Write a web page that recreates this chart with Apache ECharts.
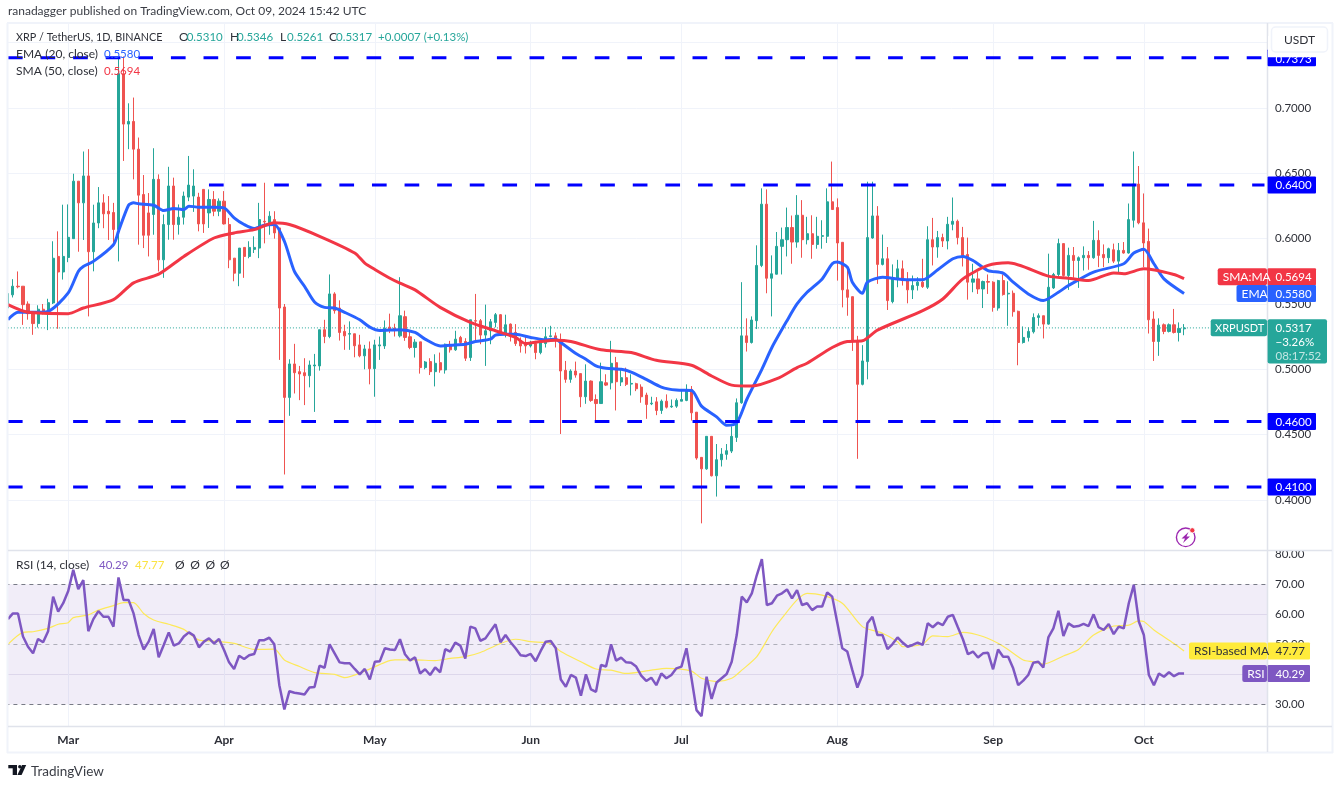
<!DOCTYPE html>
<html>
<head>
<meta charset="utf-8">
<title>XRP / TetherUS</title>
<style>
    html, body { margin: 0; padding: 0; background: #fff; }
    #main { width: 1339px; height: 785px; }
</style>
<script src="https://cdn.jsdelivr.net/npm/echarts@6/dist/echarts.min.js"></script>
</head>
<body>
<div id="main"></div>
<script>
/** chart data start */
var firstDay = '2024-02-18';
var barCount = 251; // visible slots, the last ones are empty
var monthNames = ['Jan', 'Feb', 'Mar', 'Apr', 'May', 'Jun', 'Jul', 'Aug', 'Sep', 'Oct', 'Nov', 'Dec'];

var priceGridValues = [0.40, 0.45, 0.50, 0.55, 0.60, 0.65, 0.70, 0.75];
var priceLabelValues = [0.40, 0.45, 0.50, 0.55, 0.60, 0.65, 0.70];
var rsiGridValues = [40, 60];
var rsiLabelValues = [30, 50, 60, 70, 80];

// open, close, low, high, one row per day
var candles = [
    [.547,.558,.545,.5636],[.557,.5636,.555,.569],[.5636,.5632,.562,.5749],[.5636,.5495,.534,.5636],
    [.55,.5426,.538,.552],[.543,.535,.5264,.5436],[.535,.546,.532,.549],[.546,.543,.542,.55],
    [.543,.551,.530,.554],[.5508,.585,.550,.598],[.5864,.5745,.531,.6056],[.5745,.5864,.5687,.626],
    [.5856,.601,.582,.6262],[.60,.644,.60,.6497],[.644,.6274,.590,.644],[.6274,.648,.599,.6667],
    [.648,.59,.5405,.6685],[.59,.612,.575,.626],[.612,.6274,.608,.6395],[.6274,.619,.608,.634],
    [.621,.619,.599,.6326],[.62,.607,.594,.6274],[.607,.7263,.5826,.7395],[.7263,.6877,.6595,.7395],
    [.6877,.6897,.6685,.7036],[.6897,.6685,.6454,.708],[.6685,.6333,.5954,.6774],[.6338,.6026,.5928,.6487],
    [.6197,.6026,.5864,.6349],[.6185,.6454,.603,.6692],[.6454,.5838,.5749,.6492],[.5838,.6108,.57,.6185],
    [.6108,.6403,.5992,.655],[.6403,.6108,.5992,.6467],[.6108,.6164,.6031,.6262],[.6164,.6326,.6108,.636],
    [.6318,.641,.6287,.6633],[.6326,.6403,.6205,.6531],[.6318,.6113,.6056,.6351],[.6377,.6113,.6044,.6377],
    [.6197,.63,.6082,.6377],[.63,.621,.6172,.6364],[.621,.6287,.6172,.6308],[.6287,.6113,.6108,.6364],
    [.6108,.5838,.5774,.6159],[.5851,.5736,.5674,.5851],[.5736,.5928,.5636,.5928],[.5933,.5864,.57,.5933],
    [.5864,.5933,.585,.598],[.5918,.5933,.589,.6018],[.5928,.6146,.5851,.6274],[.6133,.6128,.5964,.6428],
    [.6121,.6172,.603,.621],[.6146,.6044,.6,.621],[.6082,.5469,.5072,.6082],[.5477,.4785,.4195,.55],
    [.4785,.5041,.4644,.5077],[.5041,.4974,.4815,.5195],[.4982,.4964,.4764,.5026],[.4974,.4951,.4726,.5085],
    [.4951,.5033,.4862,.5067],[.5026,.5033,.4674,.5118],[.5026,.5303,.499,.5303],[.5303,.5251,.52,.5379],
    [.5251,.5577,.5238,.5726],[.5577,.5449,.5426,.559],[.5469,.5282,.522,.5528],[.529,.5256,.5149,.5341],
    [.5269,.5274,.5149,.5367],[.5272,.518,.5092,.5272],[.5187,.5103,.5092,.5264],[.5103,.5156,.5,.5187],
    [.5156,.5005,.4885,.5213],[.5005,.5187,.479,.5226],[.5179,.5187,.5072,.5251],[.5179,.5315,.5156,.5374],
    [.5323,.5297,.5277,.5426],[.5315,.5303,.5251,.5349],[.5256,.541,.5244,.5705],[.5403,.5244,.5218,.5449],
    [.5249,.5167,.5154,.53],[.5167,.5208,.509,.5231],[.521,.5013,.4967,.521],[.5013,.5056,.5,.5064],
    [.5059,.4982,.4956,.5085],[.4982,.5046,.4869,.5115],[.5051,.4995,.4974,.5128],[.4995,.5192,.4967,.5197],
    [.5185,.5149,.5128,.5218],[.5149,.5231,.5141,.5295],[.5244,.5205,.5192,.5256],[.5213,.5085,.5064,.5238],
    [.509,.5379,.5064,.5379],[.5372,.5369,.5218,.5577],[.5372,.5262,.5192,.5385],[.5262,.5295,.5026,.5495],
    [.5295,.5364,.5192,.5385],[.5359,.5418,.5321,.5431],[.5418,.5269,.5256,.5423],[.5269,.5341,.5244,.5418],
    [.5346,.5274,.5213,.5351],[.5282,.5197,.5179,.5346],[.5218,.5179,.5128,.5244],[.5197,.5179,.5121,.5256],
    [.5179,.5205,.5167,.5218],[.5197,.5128,.5077,.5218],[.5128,.5213,.5115,.5231],[.5197,.5249,.5167,.5321],
    [.5251,.5256,.5244,.5333],[.5256,.5238,.5167,.5282],[.5218,.4987,.4505,.5274],[.4992,.4923,.4897,.5064],
    [.4923,.4987,.4897,.5],[.4987,.4956,.4936,.5059],[.4967,.479,.471,.4967],[.479,.491,.4736,.5038],
    [.491,.4762,.4751,.4915],[.4769,.4738,.4597,.4808],[.4738,.4905,.4738,.5051],[.4897,.4879,.4872,.4962],
    [.4897,.5046,.4846,.5218],[.5051,.4905,.4685,.5095],[.4903,.4936,.4872,.5],[.4936,.4885,.4872,.5013],
    [.4887,.4892,.48,.4962],[.489,.4851,.4833,.4897],[.4864,.479,.4744,.4885],[.4803,.4731,.4621,.4821],
    [.4736,.4741,.4726,.479],[.4751,.4685,.4649,.4787],[.4685,.4756,.4659,.4769],[.4756,.471,.47,.4808],
    [.4713,.4718,.4705,.4769],[.4718,.4762,.4705,.4777],[.4756,.4769,.4756,.4838],[.4762,.4846,.4756,.4885],
    [.4846,.4667,.4608,.4872],[.4672,.4321,.4308,.4672],[.4326,.4238,.3821,.4326],[.4238,.4487,.4231,.4487],
    [.4487,.4185,.418,.4487],[.4185,.4308,.4026,.4428],[.4308,.4351,.4256,.4397],[.4349,.4377,.4308,.4428],
    [.4374,.4487,.4359,.4564],[.4479,.4744,.4444,.4777],[.4744,.5256,.4736,.5667],[.5256,.5205,.5136,.539],
    [.5205,.5377,.5197,.5405],[.5372,.5795,.5308,.5949],[.5795,.6264,.5782,.6385],[.6264,.5697,.5582,.6377],
    [.5697,.5731,.5405,.5872],[.5728,.5941,.5726,.6051],[.5941,.5992,.5726,.6085],[.5992,.6085,.5864,.6238],
    [.6085,.5974,.5808,.6177],[.5974,.6179,.5931,.6333],[.6179,.5992,.5854,.6295],[.5992,.6038,.5956,.6167],
    [.6038,.5956,.5846,.6179],[.5956,.6018,.5923,.6167],[.6018,.6023,.5923,.6141],[.6018,.6282,.5967,.6385],
    [.6282,.6223,.6223,.659],[.6238,.5967,.5679,.6308],[.5972,.5608,.5474,.5972],[.5608,.5551,.541,.5782],
    [.5556,.5218,.5141,.5556],[.5218,.4885,.4315,.5256],[.4885,.5064,.4877,.5185],[.5059,.6008,.4923,.6436],
    [.6005,.6174,.6,.6436],[.6174,.5803,.5654,.6249],[.5803,.5846,.5795,.6031],[.5846,.5526,.5454,.5936],
    [.5518,.5692,.5505,.5803],[.5692,.5769,.5628,.5838],[.5769,.5679,.5641,.5833],[.5679,.5608,.5505,.5744],
    [.5608,.5641,.5538,.5718],[.5641,.5667,.5603,.5705],[.5667,.5633,.5623,.5846],[.5628,.5992,.5615,.6095],
    [.5992,.5936,.5795,.6159],[.5936,.6008,.5854,.6059],[.6008,.5982,.5936,.6038],[.5982,.611,.5918,.6167],
    [.611,.6133,.6064,.6315],[.6133,.6008,.5956,.6146],[.6008,.5872,.5787,.609],[.5879,.5667,.5533,.6008],
    [.5667,.5692,.559,.5808],[.5692,.5615,.5577,.5744],[.5615,.5672,.5469,.5679],[.5672,.5667,.5577,.5726],
    [.5667,.5474,.5441,.5674],[.5469,.5679,.5449,.5685],[.5679,.5572,.5564,.5726],[.5577,.5582,.5333,.5674],
    [.5582,.5441,.5403,.5603],[.5444,.5205,.5031,.5449],[.5205,.5244,.5197,.5328],[.5244,.529,.5213,.5321],
    [.5287,.5397,.5274,.5428],[.5397,.541,.5333,.5428],[.541,.5346,.5236,.541],[.5346,.5628,.5341,.5885],
    [.5623,.5726,.5615,.5738],[.5726,.5962,.571,.6],[.5962,.5718,.571,.5962],[.5718,.5872,.5608,.5931],
    [.5872,.5833,.57,.5936],[.5833,.5854,.5623,.5864],[.5854,.5872,.5756,.5941],[.5872,.5854,.5762,.5905],
    [.5854,.5987,.5846,.6136],[.5987,.5872,.5782,.6064],[.5879,.5854,.5782,.5956],[.5854,.5923,.5813,.5931],
    [.5915,.5828,.5813,.5962],[.5828,.591,.5744,.5967],[.591,.589,.5885,.5974],[.589,.6146,.5885,.6269],
    [.6141,.6418,.6085,.6667],[.6418,.6121,.611,.6556],[.6121,.5967,.5782,.6346],[.5979,.5379,.5274,.6077],
    [.5385,.5213,.5064,.5444],[.5213,.5338,.5103,.539],[.5341,.529,.5269,.5351],[.529,.5341,.5282,.5351],
    [.5341,.5282,.5274,.5462],[.5282,.5313,.5213,.5359],[.5310,.5317,.5261,.5346]
];

// moving averages, [day index, value] at the spots
var emaPoints = [
    [0,.538],[2,.5436],[5,.5436],[8,.5444],[12,.5585],[14,.5749],[15,.5787],[17,.5826],[21,.5954],[22,.6056],
    [24,.6256],[25,.6274],[26,.6267],[29,.6256],[31,.6215],[33,.6231],[35,.6223],[36,.6249],[38,.6241],[41,.6241],
    [43,.6236],[45,.6159],[47,.6108],[49,.6077],[51,.6103],[53,.6108],[55,.598],[57,.5749],[59,.5636],[61,.5515],
    [63,.5474],[65,.5469],[67,.5436],[70,.5379],[72,.5323],[74,.5297],[78,.5303],[81,.5282],[83,.5231],[86,.5179],
    [88,.5185],[91,.5192],[93,.5213],[96,.5231],[97,.5262],[99,.5269],[101,.5269],[104,.5244],[107,.5226],[109,.5231],
    [110,.5205],[113,.5121],[115,.5077],[117,.5026],[119,.5008],[122,.5],[124,.4979],[127,.4923],[130,.4864],[133,.4841],
    [136,.4838],[138,.4718],[141,.4636],[143,.4572],[145,.459],[147,.4769],[150,.5],[152,.5167],[155,.5372],[157,.55],
    [159,.559],[162,.5692],[164,.5808],[165,.5821],[167,.5782],[168,.5667],[170,.5582],[171,.5667],[174,.5705],[177,.5692],
    [180,.5685],[182,.5685],[185,.5762],[188,.5846],[190,.5864],[192,.5833],[195,.5756],[198,.5736],[200,.5667],[203,.5577],
    [206,.5526],[209,.559],[211,.5641],[216,.5744],[222,.5808],[224,.589],[226,.5918],[228,.5808],[230,.5692],[234,.558]
];
var smaPoints = [
    [0,.5495],[4,.5436],[12,.5426],[15,.5469],[21,.5533],[25,.5662],[30,.5728],[35,.5864],[41,.6005],[45,.6044],
    [49,.6069],[53,.6121],[56,.6108],[62,.6018],[69,.589],[71,.5813],[73,.5764],[76,.5697],[78,.5659],[81,.5608],
    [86,.5474],[92,.5359],[97,.5295],[101,.5244],[103,.5197],[106,.5213],[109,.5223],[112,.5213],[118,.5149],[124,.5128],
    [129,.5069],[136,.5031],[140,.4949],[144,.4879],[148,.4872],[153,.4928],[157,.5013],[159,.5046],[164,.5167],[167,.5213],
    [170,.5218],[173,.53],[182,.5449],[186,.5538],[190,.5692],[195,.5795],[199,.5815],[207,.5713],[211,.5697],[215,.5679],
    [220,.5738],[222,.5731],[226,.5769],[232,.5726],[234,.5694]
];

var rsiValues = [
    58.4,60.3,60.3,52.6,49.2,47,51.8,50.7,54.4,65.9,60.9,63.7,67.8,74.8,68.4,71.4,54.4,58.4,61.1,59.2,
    59.2,55.9,72.3,64.8,64.8,60.3,53.1,48.3,50.9,55.1,45.7,49.8,54,49.6,50.3,52.6,54,52.9,49,50.9,
    52,50.3,51.8,48.1,44,41.8,46.2,45.1,46.4,46.8,51.4,51.4,52.2,50,36.4,28.3,34.4,33.9,33.6,33.3,
    35.6,35.8,42.9,42.2,50,47,44,43.7,43.7,41.8,40,41.8,38.3,44.2,44.4,48.7,48.3,48.1,51.7,46.7,
    44.6,45.7,40.3,41.7,39.8,42.3,40.7,48.4,47.6,50.6,49.6,45.3,55.9,55.3,51.2,52,54.4,56.7,50.7,53.1,
    50.7,48.7,46.4,46.1,46.8,44.4,47.8,50.9,51.1,48.7,38.3,35.9,39.8,38.9,32.9,40,35,34.2,43.1,42.6,
    50,44.6,45.6,44,43.9,42.6,39.6,37.8,38.9,36.4,40.3,38.7,39.8,42,42.6,48.7,38.7,28.1,26.1,39.2,
    31.8,37.3,38.7,40.1,44.2,53.1,65.9,64,67,73.1,78.4,63.1,63.7,66.2,67,68.3,65.3,68.1,63.1,63.7,
    61.4,62.6,62.6,67.3,65.9,57.3,48.7,47.6,41.4,35.6,39.8,57,59.2,53.1,53.1,48.4,50.1,52.3,50.6,49.2,
    49.8,50.6,49.8,57,55.7,57.2,56.4,59.2,59.8,55.7,51.7,46.7,47.6,45.6,47,47.2,41.7,48.3,45.9,45.9,
    42,36.4,37.9,39.8,43.9,44.2,42.3,52.3,55.3,61.2,52.8,57,55.9,56.1,56.8,56.1,60,55.7,54.8,56.8,
    53.4,55.9,55.3,63.7,69.8,57.6,53.1,39.8,36.4,40.3,39.2,40.7,39.4,40.3,40.29
];
var rsiMaPoints = [
    [0,50],[3,54],[5,54.2],[8,55.3],[10,56.7],[12,57.2],[13,58.9],[16,59.8],[18,61.4],[21,62.9],[23,63.9],[25,63.9],
    [27,60.3],[29,58.1],[32,56.7],[35,55],[38,51.4],[41,51.1],[45,50.3],[49,48.3],[53,48.4],[55,44.8],[58,42.6],[61,40.6],
    [65,40],[67,38.9],[71,41.1],[75,44],[77,44.8],[81,44.8],[85,44.6],[88,45.3],[91,45.9],[94,47.3],[98,50.3],[101,51.7],
    [104,50.9],[108,50.3],[110,47.6],[114,44.2],[117,41.8],[120,41.4],[123,40.3],[128,41.4],[131,42],[136,41.1],[138,38.7],
    [141,37.6],[144,38.7],[146,41.4],[149,45.9],[152,54.2],[154,58.7],[157,64.8],[159,67],[162,66.4],[166,63.7],[170,55.9],
    [174,53.7],[177,50.9],[178,49.2],[182,50.1],[184,52.8],[187,52.6],[190,54],[194,52.6],[198,49.4],[202,44.8],[204,44.2],
    [206,43.4],[210,46.1],[213,48.3],[216,53.1],[220,56.1],[223,56.4],[225,57.8],[226,57.6],[228,54.8],[232,50.3],[234,47.77]
];

// drawn support and resistance levels, as they sit in the picture
var levelPrices = [0.7385, 0.6411, 0.46, 0.41];
var levelLabels = ['0.7373', '0.6400', '0.4600', '0.4100'];
var levelStartDays = [0, 40, 0, 0];

var lastPrice = 0.5317;
var lastEma = 0.5580;
var lastSma = 0.5694;
var lastRsi = 40.29;
var lastRsiMa = 47.77;
/** chart data end */

var FONT = 'Lato, "Noto Sans", sans-serif';
var NUM_FONT = '11.5px ' + FONT; // digits run narrower than the words in the picture
var UP = '#26a69a';
var DOWN = '#ef5350';
var BLUE = '#2962ff';
var RED = '#f23645';
var PURPLE = '#7e57c2';
var YELLOW = '#ffeb3b';
var LEVEL = '#0000ff';
var GRID = '#f0f3fa';
var BORDER = '#e0e3eb';
var TEXT = '#2e3038';

function makeDays(start, count) {
    var list = [];
    var t = Date.parse(start + 'T00:00:00Z');
    for (var i = 0; i < count; i++) {
        list.push(new Date(t + i * 86400000).toISOString().slice(0, 10));
    }
    return list;
}

function isMonthStart(index, value) {
    return value.slice(8) === '01';
}

function monthLabel(value) {
    return monthNames[parseInt(value.slice(5, 7), 10) - 1];
}

var days = makeDays(firstDay, barCount);

var gridLeft = 5.4;
var gridWidth = 1261.6;

var levelSeries = levelPrices.map(function (price, i) {
    return {
        type: 'line',
        xAxisIndex: 0,
        yAxisIndex: 0,
        data: [[levelStartDays[i], price], [barCount - 1, price]],
        symbol: 'none',
        silent: true,
        z: 6,
        lineStyle: { color: LEVEL, width: 3, type: [14.7, 17.9] }
    };
});

var option = {
    animation: false,
    backgroundColor: '#ffffff',
    grid: [
        { left: gridLeft, width: gridWidth, top: 24, height: 526 },
        { left: gridLeft, width: gridWidth, top: 551, height: 175 }
    ],
    xAxis: [
        {
            type: 'category',
            gridIndex: 0,
            data: days,
            axisLine: { show: false },
            axisTick: { show: false },
            axisLabel: { show: false },
            splitLine: { show: true, interval: isMonthStart, alignWithLabel: true, lineStyle: { color: GRID, width: 1 } }
        },
        {
            type: 'category',
            gridIndex: 1,
            data: days,
            axisLine: { show: false },
            axisTick: { show: false },
            axisLabel: {
                interval: isMonthStart,
                formatter: monthLabel,
                margin: 8,
                color: TEXT,
                fontFamily: FONT,
                fontSize: 12,
                fontWeight: 700
            },
            splitLine: { show: true, interval: isMonthStart, alignWithLabel: true, lineStyle: { color: GRID, width: 1 } }
        }
    ],
    yAxis: [
        {
            type: 'value',
            gridIndex: 0,
            position: 'right',
            min: 0.3617,
            max: 0.7643,
            axisLine: { show: false },
            axisTick: { show: false, customValues: priceGridValues },
            axisLabel: {
                customValues: priceLabelValues,
                formatter: function (v) { return v.toFixed(4); },
                margin: 8,
                color: TEXT,
                fontFamily: FONT,
                fontSize: 11.5
            },
            splitLine: { show: true, lineStyle: { color: GRID, width: 1 } }
        },
        {
            type: 'value',
            gridIndex: 1,
            position: 'right',
            min: 22.8,
            max: 81.1,
            axisLine: { show: false },
            axisTick: { show: false, customValues: rsiGridValues },
            axisLabel: {
                customValues: rsiLabelValues,
                formatter: function (v) { return v.toFixed(2); },
                margin: 8,
                color: TEXT,
                fontFamily: FONT,
                fontSize: 11.5
            },
            splitLine: { show: true, lineStyle: { color: '#e9e7f1', width: 1 } }
        }
    ],
    series: [
        {
            type: 'candlestick',
            xAxisIndex: 0,
            yAxisIndex: 0,
            data: candles,
            barWidth: 2.6,
            z: 3,
            itemStyle: { color: UP, color0: DOWN, borderColor: UP, borderColor0: DOWN, borderWidth: 1 }
        },
        {
            type: 'line',
            xAxisIndex: 0,
            yAxisIndex: 0,
            data: [[0, lastPrice], [barCount - 1, lastPrice]],
            symbol: 'none',
            silent: true,
            z: 2,
            lineStyle: { color: UP, width: 1, type: [1, 2] }
        },
        {
            type: 'line',
            xAxisIndex: 0,
            yAxisIndex: 0,
            data: emaPoints,
            symbol: 'none',
            smooth: 0.25,
            z: 5,
            lineStyle: { color: BLUE, width: 3 }
        },
        {
            type: 'line',
            xAxisIndex: 0,
            yAxisIndex: 0,
            data: smaPoints,
            symbol: 'none',
            smooth: 0.25,
            z: 5,
            lineStyle: { color: RED, width: 3 }
        },
        {
            type: 'line',
            xAxisIndex: 1,
            yAxisIndex: 1,
            data: rsiMaPoints,
            symbol: 'none',
            smooth: 0.25,
            z: 4,
            lineStyle: { color: '#fde95a', width: 1.2 }
        },
        {
            type: 'line',
            xAxisIndex: 1,
            yAxisIndex: 1,
            data: rsiValues,
            symbol: 'none',
            z: 5,
            lineStyle: { color: PURPLE, width: 2.5 },
            markArea: {
                silent: true,
                itemStyle: { color: 'rgba(126,87,194,0.11)' },
                data: [[{ yAxis: 30 }, { yAxis: 70 }]]
            },
            markLine: {
                silent: true,
                symbol: 'none',
                label: { show: false },
                data: [
                    { yAxis: 70, lineStyle: { color: '#787b86', width: 1, type: [4, 4] } },
                    { yAxis: 50, lineStyle: { color: 'rgba(120,123,134,0.55)', width: 1, type: [4, 4] } },
                    { yAxis: 30, lineStyle: { color: '#787b86', width: 1, type: [4, 4] } }
                ]
            }
        }
    ].concat(levelSeries)
};

var chart = echarts.init(document.getElementById('main'), null, { renderer: 'canvas' });
chart.setOption(option);

/** overlay start: frame, legend texts and value tags */
function text(x, y, str, color, extra) {
    var style = {
        x: x,
        y: y + 0.5,
        text: str,
        fill: color || TEXT,
        font: '12px ' + FONT,
        verticalAlign: 'middle',
        align: 'left'
    };
    for (var k in (extra || {})) {
        style[k] = extra[k];
    }
    return { type: 'text', z: 30, silent: true, style: style };
}

function num(x, y, str, color) {
    return text(x, y, str, color, { font: NUM_FONT });
}

function box(x, y, w, h, fill, r, z) {
    return {
        type: 'rect',
        z: z || 20,
        silent: true,
        shape: { x: x, y: y, width: w, height: h, r: r || 0 },
        style: { fill: fill }
    };
}

function hline(y, x1, x2, color, width) {
    return {
        type: 'line', z: 18, silent: true,
        shape: { x1: x1, y1: y, x2: x2, y2: y },
        style: { stroke: color, lineWidth: width || 1 }
    };
}

function vline(x, y1, y2, color, width) {
    return {
        type: 'line', z: 18, silent: true,
        shape: { x1: x, y1: y1, x2: x, y2: y2 },
        style: { stroke: color, lineWidth: width || 1 }
    };
}

// tag on the scale with a name tag to the left of it
function valueTag(y, nameLeft, valueRight, name, value, fill, color) {
    var list = [];
    var h = 17;
    if (name) {
        list.push(box(nameLeft, y - h / 2, 1267 - nameLeft, h, fill, 2));
        list.push(text(nameLeft + 5, y, name, color));
    }
    list.push(box(1267.6, y - h / 2, valueRight - 1267.6, h, fill, 1));
    list.push(num(1275.5, y, value, color));
    return list;
}

function priceY(v) {
    return chart.convertToPixel({ yAxisIndex: 0 }, v);
}

function rsiY(v) {
    return chart.convertToPixel({ yAxisIndex: 1 }, v);
}

var els = [];

// frame, panes and the white margin outside it
els.push(box(0, 0, 7, 785, '#ffffff', 0, 16));
els.push(box(1333, 0, 6, 785, '#ffffff', 0, 16));
els.push(box(0, 753, 1339, 32, '#ffffff', 0, 16));
els.push(box(0, 0, 1339, 23, '#ffffff', 0, 16));
els.push(hline(23, 7, 1333, GRID, 2));
els.push(hline(752.5, 7, 1333, GRID, 2));
els.push(vline(7.5, 23, 753, GRID, 2));
els.push(vline(1332.5, 23, 753, GRID, 2));
els.push(hline(550.5, 8, 1332, BORDER, 1.5));
els.push(hline(726.5, 8, 1332, BORDER, 1.5));
els.push(vline(1267.5, 23, 752, BORDER, 1.5));

// header
els.push(text(8, 11, 'ranadagger published on TradingView.com, Oct 09, 2024 15:42 UTC', '#3a3d45'));

// legend
els.push(text(16, 37, 'XRP / TetherUS, 1D, BINANCE', TEXT, { font: '10.8px ' + FONT }));
[[179, 'O', 186.7, '0.5310'], [230, 'H', 237, '0.5346'], [280, 'L', 287, '0.5261'], [329, 'C', 336, '0.5317']].forEach(function (o) {
    els.push(text(o[0], 37, o[1], TEXT));
    els.push(num(o[2], 37, o[3], UP));
});
els.push(num(378, 37, '+0.0007 (+0.13%)', UP));
els.push(text(16, 54, 'EMA (20, close)', TEXT));
els.push(num(104, 54, lastEma.toFixed(4), BLUE));
els.push(text(16, 71, 'SMA (50, close)', TEXT));
els.push(num(104, 71, lastSma.toFixed(4), RED));
els.push(text(16, 565, 'RSI (14, close)', TEXT));
els.push(num(99, 565, lastRsi.toFixed(2), PURPLE));
els.push(num(135, 565, lastRsiMa.toFixed(2), '#fbe342'));
[175, 190.3, 205.6, 220].forEach(function (x) {
    els.push(text(x, 565, '\u00d8', TEXT));
});

// level tags
els.push(box(1267.6, priceY(levelPrices[0]) - 8.5, 48.4, 17, LEVEL, 1));
els.push(num(1275.5, priceY(levelPrices[0]) + 1.5, levelLabels[0], '#ffffff'));
els.push(box(1268, 36, 62, priceY(levelPrices[0]) - 36.5, '#ffffff', 0, 25));
els.push({
    type: 'rect', z: 31, silent: true,
    shape: { x: 1271.5, y: 27, width: 56, height: 25, r: 4 },
    style: { fill: '#ffffff', stroke: GRID, lineWidth: 1.5 }
});
els.push(Object.assign(text(1299.5, 40, 'USDT', TEXT, { align: 'center' }), { z: 32 }));
[1, 2, 3].forEach(function (i) {
    valueTag(priceY(levelPrices[i]), 0, 1316, null, levelLabels[i], LEVEL, '#ffffff').forEach(function (e) { els.push(e); });
});

// moving average and price tags
valueTag(priceY(lastSma) - 2, 1217.7, 1316, 'SMA:MA', lastSma.toFixed(4), RED, '#ffffff').forEach(function (e) { els.push(e); });
valueTag(priceY(lastEma), 1236.5, 1316, 'EMA', lastEma.toFixed(4), BLUE, '#ffffff').forEach(function (e) { els.push(e); });

els.push(box(1210.7, 319.3, 56.3, 17, UP, 2));
els.push(text(1215, 328, 'XRPUSDT', '#ffffff', { font: '11px ' + FONT }));
els.push(box(1267.6, 319.3, 59.4, 44.2, UP, 2));
els.push(num(1275.5, 328, lastPrice.toFixed(4), '#ffffff'));
els.push(num(1275.5, 341.5, '\u22123.26%', '#ffffff'));
els.push(num(1275.5, 355.5, '08:17:52', 'rgba(255,255,255,0.72)'));

// RSI tags
valueTag(rsiY(lastRsiMa), 1189, 1310, 'RSI-based MA', lastRsiMa.toFixed(2), YELLOW, '#2e3038').forEach(function (e) { els.push(e); });
valueTag(rsiY(lastRsi), 1242.3, 1310, 'RSI', lastRsi.toFixed(2), PURPLE, '#ffffff').forEach(function (e) { els.push(e); });

// lightning badge
els.push({
    type: 'circle', z: 20, silent: true,
    shape: { cx: 1185.7, cy: 537.3, r: 9.3 },
    style: { fill: '#ffffff', stroke: '#9c27b0', lineWidth: 1.4 }
});
els.push({
    type: 'polygon', z: 21, silent: true,
    shape: { points: [[1188.5, 532], [1181.5, 538.5], [1185, 538.5], [1183, 543], [1190, 536.5], [1186.5, 536.5]] },
    style: { fill: '#9c27b0' }
});
els.push({
    type: 'circle', z: 22, silent: true,
    shape: { cx: 1192.3, cy: 530.3, r: 2.6 },
    style: { fill: RED, stroke: '#ffffff', lineWidth: 0.8 }
});

// TradingView logo
els.push(box(8.3, 765, 8.7, 3.3, '#131722', 0, 21));
els.push(box(12.7, 765, 4.3, 10, '#131722', 0, 21));
els.push({ type: 'circle', z: 21, silent: true, shape: { cx: 19.8, cy: 766.7, r: 1.7 }, style: { fill: '#131722' } });
els.push({
    type: 'polygon', z: 21, silent: true,
    shape: { points: [[22, 765], [26.2, 765], [21.6, 775], [17.4, 775]] },
    style: { fill: '#131722' }
});
els.push(text(31, 771, 'TradingView', '#3a3d45', { font: '13.5px ' + FONT }));

chart.setOption({ graphic: { elements: els } });
/** overlay end */
</script>
</body>
</html>
